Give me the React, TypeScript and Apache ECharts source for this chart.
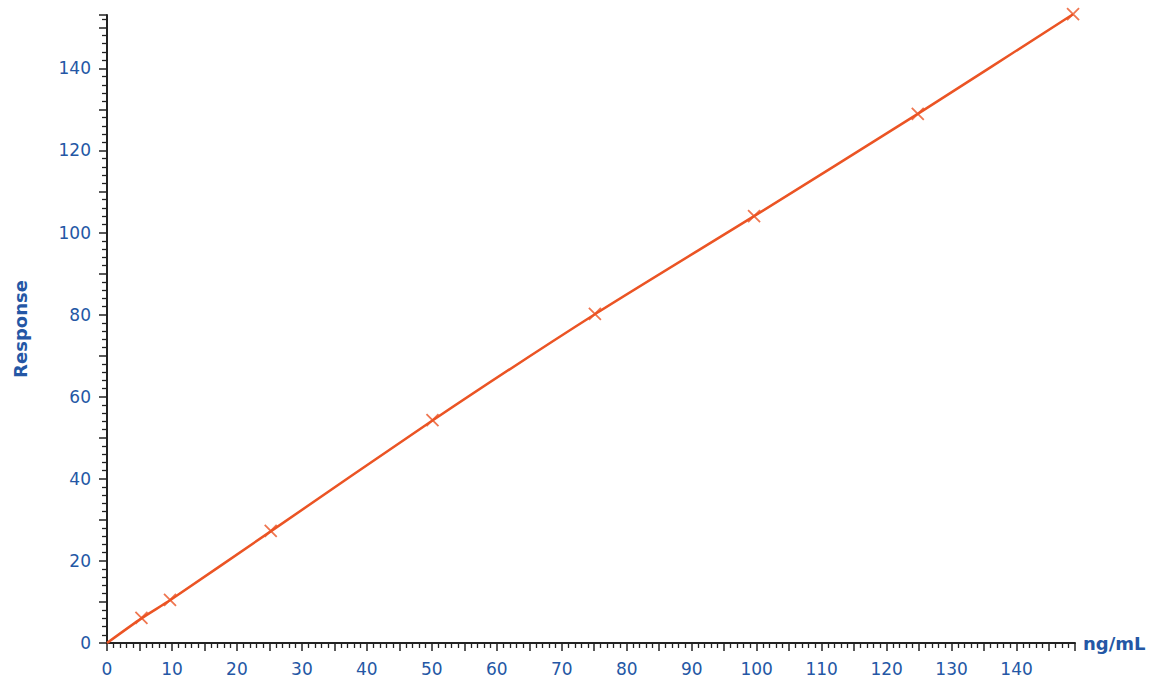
import React, { useEffect, useRef } from "react";
import * as echarts from "echarts";

const concentrations = [5.3, 9.7, 25.2, 50.1, 75.1, 99.6, 124.8, 148.7];
const responses = [6.1, 10.5, 27.3, 54.3, 80.2, 104.0, 128.9, 153.2];
const curveX = [0, 5.3, 9.7, 25.2, 50.1, 75.1, 99.6, 124.8, 148.7];
const curveY = [0, 6.0, 10.4, 27.2, 54.2, 80.1, 104.0, 128.9, 153.2];

const BLUE = "#2457A5";
const ORANGE = "#EB5424";
const FONT = "DejaVu Sans";

export default function App() {
  const ref = useRef<HTMLDivElement>(null);
  useEffect(() => {
    if (!ref.current) return;
    const chart = echarts.init(ref.current, null, { renderer: "svg" });
    chart.setOption({
      animation: false,
      grid: { left: 107, top: 15, right: 80, bottom: 36, containLabel: false },
      xAxis: {
        type: "value",
        min: 0,
        max: 149,
        interval: 5,
        name: "ng/mL",
        nameLocation: "end",
        nameGap: 8,
        nameTextStyle: { color: BLUE, fontWeight: "bold", fontSize: 18, fontFamily: FONT, verticalAlign: "middle" },
        axisLine: { show: true, lineStyle: { color: "#222", width: 2 } },
        axisTick: { show: true, inside: false, length: 8, lineStyle: { color: "#222", width: 1.5 } },
        minorTick: { show: true, splitNumber: 5, length: 5, lineStyle: { color: "#222", width: 1.3 } },
        splitLine: { show: false },
        axisLabel: {
          color: BLUE,
          fontSize: 17,
          fontFamily: FONT,
          margin: 17,
          showMaxLabel: false,
          formatter: (v: number) => (Math.abs(v % 10) < 1e-9 && v <= 140 ? String(v) : ""),
        },
      },
      yAxis: {
        type: "value",
        min: 0,
        max: 153,
        interval: 10,
        name: "Response",
        nameLocation: "middle",
        nameGap: 78,
        nameRotate: 90,
        nameTextStyle: { color: BLUE, fontWeight: "bold", fontSize: 18, fontFamily: FONT },
        axisLine: { show: true, lineStyle: { color: "#222", width: 2 } },
        axisTick: { show: true, inside: false, length: 8, lineStyle: { color: "#222", width: 1.5 } },
        minorTick: { show: true, splitNumber: 5, length: 5, lineStyle: { color: "#222", width: 1.3 } },
        splitLine: { show: false },
        axisLabel: {
          color: BLUE,
          fontSize: 17,
          fontFamily: FONT,
          margin: 16,
          showMaxLabel: false,
          formatter: (v: number) => (Math.abs(v % 20) < 1e-9 && v <= 140 ? String(v) : ""),
        },
      },
      series: [
        {
          type: "line",
          data: curveX.map((x, i) => [x, curveY[i]]),
          showSymbol: false,
          smooth: 0.2,
          clip: false,
          lineStyle: { color: ORANGE, width: 2.5 },
          z: 2,
        },
        {
          type: "scatter",
          data: concentrations.map((x, i) => [x, responses[i]]),
          symbol: "path://M0,0L10,10M10,0L0,10",
          symbolSize: 12,
          clip: false,
          itemStyle: { color: "none", borderColor: ORANGE, borderWidth: 1.8 },
          z: 3,
        },
      ],
    });
    return () => chart.dispose();
  }, []);
  return (
    <div
      ref={ref}
      style={{ position: "absolute", left: 0, top: 0, width: 1155, height: 679, background: "#fff" }}
    />
  );
}
